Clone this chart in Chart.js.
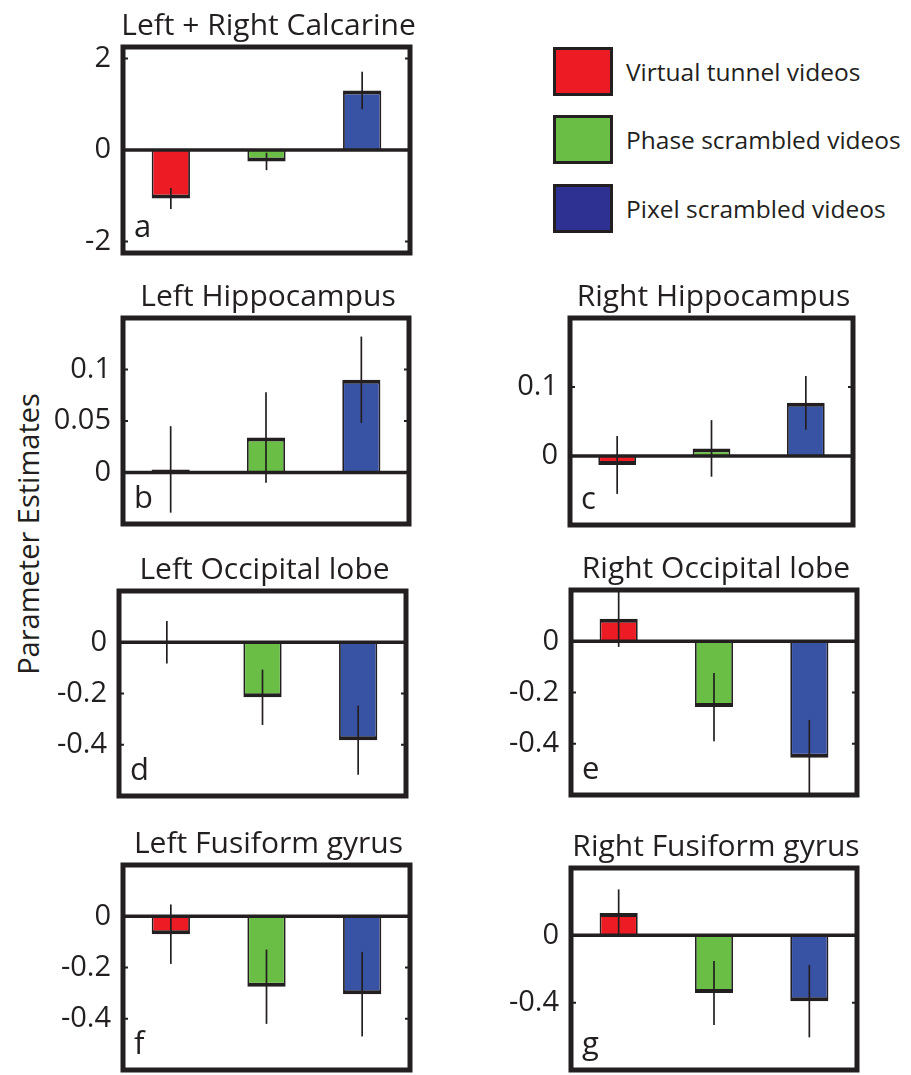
<!DOCTYPE html>
<html>
<head>
<meta charset="utf-8">
<script src="https://cdn.jsdelivr.net/npm/chart.js@4.4.0/dist/chart.umd.min.js"></script>
<style>
  body { margin: 0; background: #fff; width: 911px; height: 1075px; position: relative; overflow: hidden; font-family: "Open Sans", sans-serif; color: #231f20; }
  canvas { position: absolute; }
  #ylabel { position: absolute; left: 27px; top: 534px; transform: translate(-50%, -50%) rotate(-90deg); font-size: 29px; white-space: nowrap; }
  .swatch { position: absolute; left: 553px; width: 54px; height: 43px; border: 3px solid #231f20; }
  .key-text { position: absolute; left: 626px; font-size: 24.5px; line-height: 49px; white-space: nowrap; }
</style>
</head>
<body>
<div id="ylabel">Parameter Estimates</div>
<div id="legend"></div>
<script>
// conditions (one bar each in every panel)
var conditions = ["Virtual tunnel videos", "Phase scrambled videos", "Pixel scrambled videos"];
var barColors = ["#ed1c24", "#6abd45", "#3953a4"];
var legendColors = ["#ed1c24", "#6abd45", "#2e3192"];

// panels
var panelTitles = ["Left + Right Calcarine", "Left Hippocampus", "Right Hippocampus",
  "Left Occipital lobe", "Right Occipital lobe", "Left Fusiform gyrus", "Right Fusiform gyrus"];
var panelLetters = ["a", "b", "c", "d", "e", "f", "g"];

// parameter estimates (mean) and error bar half lengths
var calcarine = [-1.06, -0.25, 1.30];
var calcarineErr = [0.23, 0.19, 0.41];
var leftHippo = [0.003, 0.034, 0.090];
var leftHippoErr = [0.042, 0.044, 0.042];
var rightHippo = [-0.013, 0.011, 0.077];
var rightHippoErr = [0.042, 0.041, 0.039];
var leftOccipital = [0, -0.215, -0.382];
var leftOccipitalErr = [0.083, 0.108, 0.135];
var rightOccipital = [0.088, -0.257, -0.455];
var rightOccipitalErr = [0.11, 0.133, 0.148];
var leftFusiform = [-0.07, -0.275, -0.304];
var leftFusiformErr = [0.116, 0.145, 0.165];
var rightFusiform = [0.133, -0.343, -0.391];
var rightFusiformErr = [0.14, 0.19, 0.215];

var means = [calcarine, leftHippo, rightHippo, leftOccipital, rightOccipital, leftFusiform, rightFusiform];
var errors = [calcarineErr, leftHippoErr, rightHippoErr, leftOccipitalErr, rightOccipitalErr, leftFusiformErr, rightFusiformErr];

// y axis ranges and ticks
var yMins = [-2.25, -0.05, -0.1, -0.6, -0.6, -0.6, -0.8];
var yMaxs = [2.25, 0.15, 0.2, 0.2, 0.2, 0.2, 0.4];
var yTicks = [[-2, 0, 2], [0, 0.05, 0.1], [0, 0.1], [-0.4, -0.2, 0], [-0.4, -0.2, 0], [-0.4, -0.2, 0], [-0.4, 0]];

// plot area of each panel on the page [left, top, right, bottom]
var frames = [
  [123, 47, 410, 253],
  [123, 318, 409, 524],
  [570, 318, 853, 525],
  [119, 591, 406, 796],
  [571, 590, 857, 795],
  [123, 865, 410, 1070],
  [571, 868, 857, 1070]
];

var ink = "#231f20";
var axisWidth = 76;
var padTop = 48;
var padBottom = 8;
var padRight = 6;

Chart.defaults.font.family = "'Open Sans', sans-serif";
Chart.defaults.color = ink;

// title, frame, zero line, inner ticks, error bars and panel letter
var framePlugin = {
  id: "frame",
  afterDatasetsDraw: function (chart, args, opts) {
    var ctx = chart.ctx;
    var area = chart.chartArea;
    var y = chart.scales.y;
    var meta = chart.getDatasetMeta(0);
    var data = chart.data.datasets[0].data;

    ctx.save();
    ctx.strokeStyle = ink;
    ctx.fillStyle = ink;

    // zero line
    var y0 = y.getPixelForValue(0);
    ctx.lineWidth = 3.5;
    ctx.beginPath();
    ctx.moveTo(area.left, y0);
    ctx.lineTo(area.right, y0);
    ctx.stroke();

    // error bars
    ctx.save();
    ctx.beginPath();
    ctx.rect(area.left, area.top, area.width, area.height);
    ctx.clip();
    ctx.lineWidth = 1.7;
    meta.data.forEach(function (bar, i) {
      ctx.beginPath();
      ctx.moveTo(bar.x, y.getPixelForValue(data[i] + opts.errors[i]));
      ctx.lineTo(bar.x, y.getPixelForValue(data[i] - opts.errors[i]));
      ctx.stroke();
    });
    ctx.restore();

    // small inner ticks on both sides
    ctx.lineWidth = 2;
    y.ticks.forEach(function (t) {
      var py = y.getPixelForValue(t.value);
      ctx.beginPath();
      ctx.moveTo(area.left, py);
      ctx.lineTo(area.left + 5, py);
      ctx.moveTo(area.right, py);
      ctx.lineTo(area.right - 5, py);
      ctx.stroke();
    });

    // frame
    ctx.lineWidth = 5;
    ctx.strokeRect(area.left, area.top, area.width, area.height);

    // title
    ctx.font = "30px 'Open Sans', sans-serif";
    ctx.textBaseline = "alphabetic";
    ctx.textAlign = "center";
    ctx.fillText(opts.title, (area.left + area.right) / 2 + 2, area.top - 12);

    // panel letter
    ctx.font = "31px 'Open Sans', sans-serif";
    ctx.textAlign = "left";
    ctx.fillText(opts.letter, area.left + 11, area.bottom - 16);
    ctx.restore();
  }
};

function makePanel(p) {
  var f = frames[p];
  var canvas = document.createElement("canvas");
  var w = (f[2] - f[0]) + axisWidth + padRight;
  var h = (f[3] - f[1]) + padTop + padBottom;
  canvas.width = w;
  canvas.height = h;
  canvas.style.left = (f[0] - axisWidth) + "px";
  canvas.style.top = (f[1] - padTop) + "px";
  canvas.style.width = w + "px";
  canvas.style.height = h + "px";
  document.body.appendChild(canvas);

  var ticks = yTicks[p];

  new Chart(canvas.getContext("2d"), {
    type: "bar",
    data: {
      labels: conditions,
      datasets: [
        {
          data: means[p],
          backgroundColor: barColors,
          borderColor: ink,
          borderSkipped: false,
          borderWidth: function (context) {
            var v = context.raw;
            if (v < 0) {
              return { top: 0, right: 1.8, bottom: 4, left: 1.8 };
            }
            return { top: 4, right: 1.8, bottom: 0, left: 1.8 };
          },
          categoryPercentage: 1,
          barPercentage: 0.4,
        },
      ],
    },
    options: {
      responsive: false,
      animation: false,
      devicePixelRatio: 1,
      layout: {
        padding: { top: padTop, left: 0, right: padRight, bottom: padBottom },
      },
      plugins: {
        legend: { display: false },
        tooltip: { enabled: false },
        title: { display: false },
        frame: {
          title: panelTitles[p],
          errors: errors[p],
          letter: panelLetters[p],
        },
      },
      scales: {
        x: { display: false },
        y: {
          min: yMins[p],
          max: yMaxs[p],
          afterFit: function (scale) {
            scale.width = axisWidth;
            scale.paddingTop = 0;
            scale.paddingBottom = 0;
          },
          afterBuildTicks: function (scale) {
            scale.ticks = ticks.map(function (v) {
              return { value: v };
            });
          },
          grid: { display: false, drawTicks: false },
          border: { display: false },
          ticks: {
            color: ink,
            padding: 12,
            font: { size: 29 },
            callback: function (value) {
              return String(value);
            },
          },
        },
      },
    },
    plugins: [framePlugin],
  });
}

for (var p = 0; p < panelTitles.length; p++) {
  makePanel(p);
}

// legend
var legend = document.getElementById("legend");
var rowTops = [47, 115, 184];
for (var i = 0; i < conditions.length; i++) {
  var sw = document.createElement("div");
  sw.className = "swatch";
  sw.style.top = rowTops[i] + "px";
  sw.style.background = legendColors[i];
  legend.appendChild(sw);

  var txt = document.createElement("div");
  txt.className = "key-text";
  txt.style.top = rowTops[i] + "px";
  txt.textContent = conditions[i];
  legend.appendChild(txt);
}
</script>
</body>
</html>
